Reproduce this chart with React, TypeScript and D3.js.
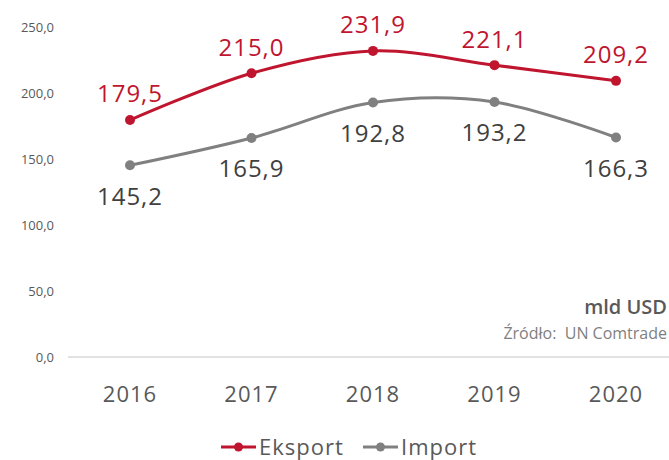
import React from "react";
import * as d3 from "d3";

const years = ["2016", "2017", "2018", "2019", "2020"];
const eksport = [179.5, 215.0, 231.9, 221.1, 209.2];
const importVals = [145.2, 165.9, 192.8, 193.2, 166.3];
const yTicks = [0, 50, 100, 150, 200, 250];

const W = 669;
const H = 460;
const RED = "#c0152f";
const GRAY = "#808080";
const TXT = "#595959";
const FONT = "'Open Sans', Lato, sans-serif";

const fmt = (v: number) => v.toFixed(1).replace(".", ",");

export default function App() {
  const x = d3.scalePoint<string>().domain(years).range([130, 616]);
  const y = d3.scaleLinear().domain([0, 250]).range([357, 27]);
  const line = d3
    .line<number>()
    .x((_, i) => x(years[i]) as number)
    .y((d) => y(d))
    .curve(d3.curveCatmullRom.alpha(0));

  const series = [
    { name: "Eksport", data: eksport, color: RED, labelColor: RED, dy: -26 },
    { name: "Import", data: importVals, color: GRAY, labelColor: "#404040", dy: 31 },
  ];

  return (
    <svg
      width={W}
      height={H}
      style={{ position: "absolute", left: 0, top: 0, background: "#fff" }}
      fontFamily={FONT}
    >
      {yTicks.map((t) => (
        <text
          key={t}
          x={54}
          y={y(t)}
          dy="0.35em"
          textAnchor="end"
          fontSize={13}
          fill={TXT}
        >
          {fmt(t)}
        </text>
      ))}
      <line x1={68} x2={669} y1={y(0)} y2={y(0)} stroke="#d9d9d9" strokeWidth={1.3} />
      {years.map((yr) => (
        <text
          key={yr}
          x={x(yr)}
          y={394}
          dy="0.35em"
          textAnchor="middle"
          fontSize={22}
          letterSpacing={1}
          fill={TXT}
        >
          {yr}
        </text>
      ))}
      {series.map((s) => (
        <g key={s.name}>
          <path d={line(s.data) || ""} fill="none" stroke={s.color} strokeWidth={3} />
          {s.data.map((v, i) => (
            <circle key={i} cx={x(years[i])} cy={y(v)} r={5} fill={s.color} />
          ))}
          {s.data.map((v, i) => (
            <text
              key={"l" + i}
              x={x(years[i])}
              y={y(v) + s.dy}
              dy="0.35em"
              textAnchor="middle"
              fontSize={24}
              letterSpacing={1}
              fill={s.labelColor}
            >
              {fmt(v)}
            </text>
          ))}
        </g>
      ))}
      <text x={667} y={307} dy="0.35em" textAnchor="end" fontSize={20} fontWeight={600} fill={TXT}>
        mld USD
      </text>
      <text x={667} y={333} dy="0.35em" textAnchor="end" fontSize={16} fill="#7f7f7f" style={{ whiteSpace: "pre" }}>
        Źródło:  UN Comtrade
      </text>
      {series.map((s, i) => {
        const lx = i === 0 ? 221 : 363;
        return (
          <g key={"leg" + s.name}>
            <line x1={lx} x2={lx + 35} y1={447} y2={447} stroke={s.color} strokeWidth={3} />
            <circle cx={lx + 17.5} cy={447} r={4.5} fill={s.color} />
            <text x={lx + 38} y={447} dy="0.35em" fontSize={22} letterSpacing={1} fill={TXT}>
              {s.name}
            </text>
          </g>
        );
      })}
    </svg>
  );
}
